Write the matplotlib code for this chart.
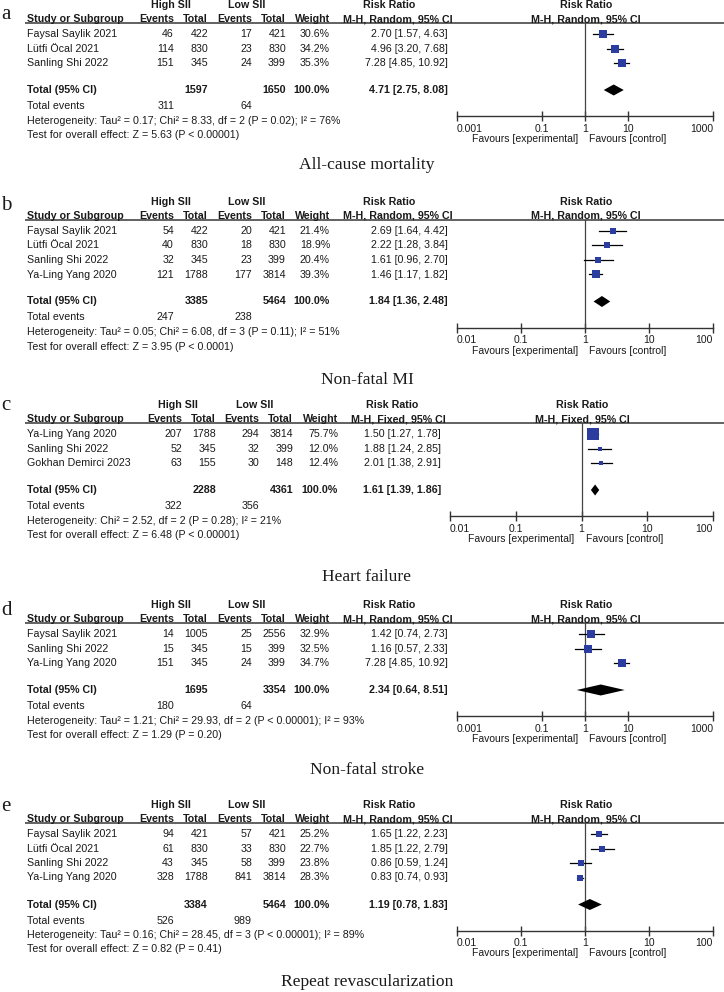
import numpy as np
import matplotlib
matplotlib.use("Agg")
import matplotlib.pyplot as plt

# ---- data ----
a_study = ["Faysal Saylik 2021", "Lütfi Öcal 2021", "Sanling Shi 2022"]
a_high_events = [46, 114, 151]
a_high_total = [422, 830, 345]
a_low_events = [17, 23, 24]
a_low_total = [421, 830, 399]
a_weight = [30.6, 34.2, 35.3]
a_rr = [2.70, 4.96, 7.28]
a_lo = [1.57, 3.20, 4.85]
a_hi = [4.63, 7.68, 10.92]
a_totals = [1597, 1650]
a_events = [311, 64]
a_pooled = [4.71, 2.75, 8.08]
a_het = "Heterogeneity: Tau² = 0.17; Chi² = 8.33, df = 2 (P = 0.02); I² = 76%"
a_test = "Test for overall effect: Z = 5.63 (P < 0.00001)"

b_study = ["Faysal Saylik 2021", "Lütfi Öcal 2021", "Sanling Shi 2022", "Ya-Ling Yang 2020"]
b_high_events = [54, 40, 32, 121]
b_high_total = [422, 830, 345, 1788]
b_low_events = [20, 18, 23, 177]
b_low_total = [421, 830, 399, 3814]
b_weight = [21.4, 18.9, 20.4, 39.3]
b_rr = [2.69, 2.22, 1.61, 1.46]
b_lo = [1.64, 1.28, 0.96, 1.17]
b_hi = [4.42, 3.84, 2.70, 1.82]
b_totals = [3385, 5464]
b_events = [247, 238]
b_pooled = [1.84, 1.36, 2.48]
b_het = "Heterogeneity: Tau² = 0.05; Chi² = 6.08, df = 3 (P = 0.11); I² = 51%"
b_test = "Test for overall effect: Z = 3.95 (P < 0.0001)"

c_study = ["Ya-Ling Yang 2020", "Sanling Shi 2022", "Gokhan Demirci 2023"]
c_high_events = [207, 52, 63]
c_high_total = [1788, 345, 155]
c_low_events = [294, 32, 30]
c_low_total = [3814, 399, 148]
c_weight = [75.7, 12.0, 12.4]
c_rr = [1.50, 1.88, 2.01]
c_lo = [1.27, 1.24, 1.38]
c_hi = [1.78, 2.85, 2.91]
c_totals = [2288, 4361]
c_events = [322, 356]
c_pooled = [1.61, 1.39, 1.86]
c_het = "Heterogeneity: Chi² = 2.52, df = 2 (P = 0.28); I² = 21%"
c_test = "Test for overall effect: Z = 6.48 (P < 0.00001)"

d_study = ["Faysal Saylik 2021", "Sanling Shi 2022", "Ya-Ling Yang 2020"]
d_high_events = [14, 15, 151]
d_high_total = [1005, 345, 345]
d_low_events = [25, 15, 24]
d_low_total = [2556, 399, 399]
d_weight = [32.9, 32.5, 34.7]
d_rr = [1.42, 1.16, 7.28]
d_lo = [0.74, 0.57, 4.85]
d_hi = [2.73, 2.33, 10.92]
d_totals = [1695, 3354]
d_events = [180, 64]
d_pooled = [2.34, 0.64, 8.51]
d_het = "Heterogeneity: Tau² = 1.21; Chi² = 29.93, df = 2 (P < 0.00001); I² = 93%"
d_test = "Test for overall effect: Z = 1.29 (P = 0.20)"

e_study = ["Faysal Saylik 2021", "Lütfi Öcal 2021", "Sanling Shi 2022", "Ya-Ling Yang 2020"]
e_high_events = [94, 61, 43, 328]
e_high_total = [421, 830, 345, 1788]
e_low_events = [57, 33, 58, 841]
e_low_total = [421, 830, 399, 3814]
e_weight = [25.2, 22.7, 23.8, 28.3]
e_rr = [1.65, 1.85, 0.86, 0.83]
e_lo = [1.22, 1.22, 0.59, 0.74]
e_hi = [2.23, 2.79, 1.24, 0.93]
e_totals = [3384, 5464]
e_events = [526, 989]
e_pooled = [1.19, 0.78, 1.83]
e_het = "Heterogeneity: Tau² = 0.16; Chi² = 28.45, df = 3 (P < 0.00001); I² = 89%"
e_test = "Test for overall effect: Z = 0.82 (P = 0.41)"

letters = ["a", "b", "c", "d", "e"]
titles = ["All-cause mortality", "Non-fatal MI", "Heart failure", "Non-fatal stroke",
          "Repeat revascularization"]
methods = ["M-H, Random, 95% CI", "M-H, Random, 95% CI", "M-H, Fixed, 95% CI",
           "M-H, Random, 95% CI", "M-H, Random, 95% CI"]
ticks_wide = [0.001, 0.1, 1, 10, 1000]
ticks_narrow = [0.01, 0.1, 1, 10, 100]
tick_sets = [ticks_wide, ticks_narrow, ticks_narrow, ticks_wide, ticks_narrow]

panels = [
    (a_study, a_high_events, a_high_total, a_low_events, a_low_total, a_weight,
     a_rr, a_lo, a_hi, a_totals, a_events, a_pooled, a_het, a_test),
    (b_study, b_high_events, b_high_total, b_low_events, b_low_total, b_weight,
     b_rr, b_lo, b_hi, b_totals, b_events, b_pooled, b_het, b_test),
    (c_study, c_high_events, c_high_total, c_low_events, c_low_total, c_weight,
     c_rr, c_lo, c_hi, c_totals, c_events, c_pooled, c_het, c_test),
    (d_study, d_high_events, d_high_total, d_low_events, d_low_total, d_weight,
     d_rr, d_lo, d_hi, d_totals, d_events, d_pooled, d_het, d_test),
    (e_study, e_high_events, e_high_total, e_low_events, e_low_total, e_weight,
     e_rr, e_lo, e_hi, e_totals, e_events, e_pooled, e_het, e_test),
]

# ---- layout (pixels, from the top) ----
W, H = 724, 992
line_y = [23, 220, 423, 623, 823]
title_y = [165, 380, 577, 770, 982]
letter_base = [19, 210, 410, 615, 811]
row_step = 14.5
col_std = dict(cols=[174, 208, 252, 286, 330], rr=448, high=171, low=247, ax0=457, rrh=389, mh=398)
col_c = dict(cols=[182, 216, 259, 293, 338], rr=441, high=178, low=255, ax0=450, rrh=392, mh=398)
ax1 = 713

SANS = "Liberation Sans"
SERIF = "Liberation Serif"
FS = 7.7
TXT = "#1a1a1a"
BLUE = "#2b3d9e"
GREY = "#555555"

fig = plt.figure(figsize=(W / 100, H / 100), dpi=100)
bg = fig.add_axes([0, 0, 1, 1])
bg.set_xlim(0, W)
bg.set_ylim(H, 0)
bg.axis("off")


def txt(x, y, s, ha="left", bold=False, size=FS):
    bg.text(x, y, s, ha=ha, va="center", fontsize=size, family=SANS,
            fontweight="bold" if bold else "normal", color=TXT)


for p, (study, he, ht, le, lt, wt, rr, lo, hi, tot, ev, pooled, het, test) in enumerate(panels):
    L = col_c if p == 2 else col_std
    c = L["cols"]
    y0 = line_y[p]
    ticks = tick_sets[p]

    # header
    txt(L["high"], y0 - 18, "High SII", ha="center", bold=True)
    txt(L["low"], y0 - 18, "Low SII", ha="center", bold=True)
    txt(L["rrh"], y0 - 18, "Risk Ratio", ha="center", bold=True)
    txt(27, y0 - 4, "Study or Subgroup", bold=True)
    for x, s in zip(c, ["Events", "Total", "Events", "Total", "Weight"]):
        txt(x, y0 - 4, s, ha="right", bold=True)
    txt(L["mh"], y0 - 4, methods[p], ha="center", bold=True)
    bg.plot([25, W], [y0, y0], color=GREY, lw=1.3, solid_capstyle="butt")

    rows_y = [y0 + 11 + i * row_step for i in range(len(study))]
    for i, yy in enumerate(rows_y):
        txt(27, yy, study[i])
        for x, v in zip(c, [he[i], ht[i], le[i], lt[i]]):
            txt(x, yy, str(v), ha="right")
        txt(c[4], yy, f"{wt[i]:.1f}%", ha="right")
        txt(L["rr"], yy, f"{rr[i]:.2f} [{lo[i]:.2f}, {hi[i]:.2f}]", ha="right")

    ty = rows_y[-1] + 27
    txt(27, ty, "Total (95% CI)", bold=True)
    txt(c[1], ty, str(tot[0]), ha="right", bold=True)
    txt(c[3], ty, str(tot[1]), ha="right", bold=True)
    txt(c[4], ty, "100.0%", ha="right", bold=True)
    txt(L["rr"], ty, f"{pooled[0]:.2f} [{pooled[1]:.2f}, {pooled[2]:.2f}]", ha="right", bold=True)
    txt(27, ty + 16, "Total events")
    txt(c[0], ty + 16, str(ev[0]), ha="right")
    txt(c[2], ty + 16, str(ev[1]), ha="right")
    txt(27, ty + 30.5, het)
    txt(27, ty + 45, test)

    # forest plot
    axis_y = ty + 26
    x0 = L["ax0"]
    ax = fig.add_axes([x0 / W, 1 - axis_y / H, (ax1 - x0) / W, (axis_y - y0) / H])
    ax.patch.set_alpha(0)
    ax.set_xscale("log")
    ax.set_xlim(ticks[0], ticks[-1])
    ax.set_ylim(axis_y, y0)
    for s in ["top", "left", "right"]:
        ax.spines[s].set_visible(False)
    ax.spines["bottom"].set_color("#333333")
    ax.spines["bottom"].set_linewidth(1.0)
    ax.set_yticks([])
    ax.set_xticks(ticks)
    labels = ax.set_xticklabels([f"{t:g}" for t in ticks], fontsize=7.5, family=SANS, color=TXT)
    labels[0].set_ha("left")
    labels[-1].set_ha("right")
    ax.minorticks_off()
    ax.tick_params(axis="x", direction="inout", length=7, width=1.0, color="#333333", pad=2)
    ax.axvline(1, color="#444444", lw=0.9)

    for i, yy in enumerate(rows_y):
        ax.plot([lo[i], hi[i]], [yy, yy], color="black", lw=0.9, zorder=2)
        side = 1.3 * np.sqrt(wt[i]) / 1.389
        ax.plot(rr[i], yy, marker="s", ms=side, color=BLUE, mec=BLUE, mew=0, zorder=3)
    ax.fill([pooled[1], pooled[0], pooled[2], pooled[0]], [ty, ty - 5.5, ty, ty + 5.5],
            color="black", lw=0, zorder=3)

    # plot headers and favours labels at x = 1
    xm = x0 + (0 - np.log10(ticks[0])) / (np.log10(ticks[-1]) - np.log10(ticks[0])) * (ax1 - x0)
    txt(xm + 1, y0 - 18, "Risk Ratio", ha="center", bold=True)
    txt(xm + 1, y0 - 4, methods[p], ha="center", bold=True)
    txt(xm - 7, axis_y + 23, "Favours [experimental]", ha="right", size=7.5)
    txt(xm + 4, axis_y + 23, "Favours [control]", ha="left", size=7.5)

    bg.text(1, letter_base[p], letters[p], ha="left", va="baseline", fontsize=15,
            family=SERIF, color=TXT)
    bg.text(367, title_y[p], titles[p], ha="center", va="center", fontsize=12.6,
            family=SERIF, color=TXT)

fig.savefig("out.png", dpi=100)
